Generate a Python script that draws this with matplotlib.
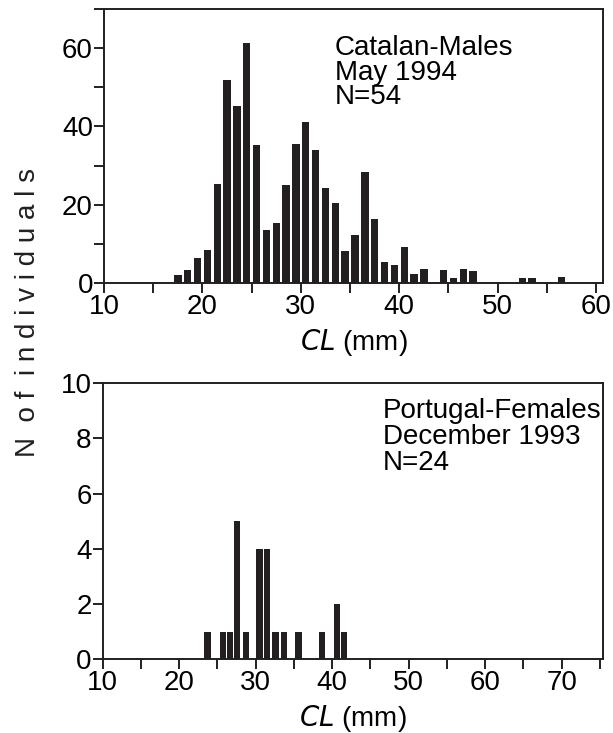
import matplotlib
matplotlib.use('Agg')
import matplotlib.pyplot as plt
from matplotlib.ticker import MultipleLocator

plt.rcParams['font.family'] = ['Liberation Sans', 'DejaVu Sans']

# Catalan males, May 1994 (bin centres, CL in mm)
cat_cl = [17.5, 18.5, 19.5, 20.5, 21.5, 22.5, 23.5, 24.5, 25.5, 26.5,
          27.5, 28.5, 29.5, 30.5, 31.5, 32.5, 33.5, 34.5, 35.5, 36.5,
          37.5, 38.5, 39.5, 40.5, 41.5, 42.5, 44.5, 45.5, 46.5, 47.5,
          52.5, 53.5, 56.5]
cat_n = [2, 3.3, 6.4, 8.4, 25.3, 52, 45.2, 61.5, 35.2, 13.5,
         15.4, 25.1, 35.4, 41.1, 34.1, 24.3, 20.4, 8.2, 12.2, 28.3,
         16.4, 5.2, 4.5, 9.1, 2.3, 3.4, 3.2, 1.2, 3.4, 3.1,
         1.2, 1.2, 1.4]

# Portugal females, December 1993
por_cl = [23.7, 25.7, 26.6, 27.6, 28.7, 30.5, 31.5, 32.6, 33.7, 35.6,
          38.7, 40.6, 41.6]
por_n = [1, 1, 1, 5, 1, 4, 4, 1, 1, 1, 1, 2, 1]

bar_col = '#231f20'
fs = 20

fig = plt.figure(figsize=(6.13, 7.33), dpi=100)
ax1 = fig.add_axes([0.1697, 0.6143, 0.814, 0.373])
ax2 = fig.add_axes([0.1675, 0.1005, 0.816, 0.3766])

ax1.bar(cat_cl, cat_n, width=0.75, color=bar_col, linewidth=0)
ax2.bar(por_cl, por_n, width=0.8, color=bar_col, linewidth=0)

ax1.set_xlim(10, 60.7)
ax1.set_ylim(0, 70)
ax1.xaxis.set_major_locator(MultipleLocator(10))
ax1.xaxis.set_minor_locator(MultipleLocator(5))
ax1.yaxis.set_major_locator(MultipleLocator(20))
ax1.yaxis.set_minor_locator(MultipleLocator(10))

ax2.set_xlim(10, 75.4)
ax2.set_ylim(0, 10)
ax2.xaxis.set_major_locator(MultipleLocator(10))
ax2.xaxis.set_minor_locator(MultipleLocator(5))
ax2.yaxis.set_major_locator(MultipleLocator(2))

for ax in (ax1, ax2):
    for s in ax.spines.values():
        s.set_linewidth(1.4)
        s.set_color('#231f20')
    ax.tick_params(which='both', direction='out', length=7, width=1.4,
                   color='#231f20', labelsize=fs, pad=1)
    ax.set_xlabel('$\\it{CL}$ (mm)', fontsize=fs, labelpad=5)

ax1.text(0.463, 0.905, 'Catalan-Males\nMay 1994\nN=54', transform=ax1.transAxes,
         ha='left', va='top', fontsize=fs, linespacing=0.93)
ax2.text(0.56, 0.945, 'Portugal-Females\nDecember 1993\nN=24', transform=ax2.transAxes,
         ha='left', va='top', fontsize=fs, linespacing=1.0)

fig.text(0.045, 0.573, 'N  o f  i n d i v i d u a l s', rotation=90,
         ha='center', va='center', fontsize=fs, color='#231f20')

fig.savefig('out.png', dpi=100)
